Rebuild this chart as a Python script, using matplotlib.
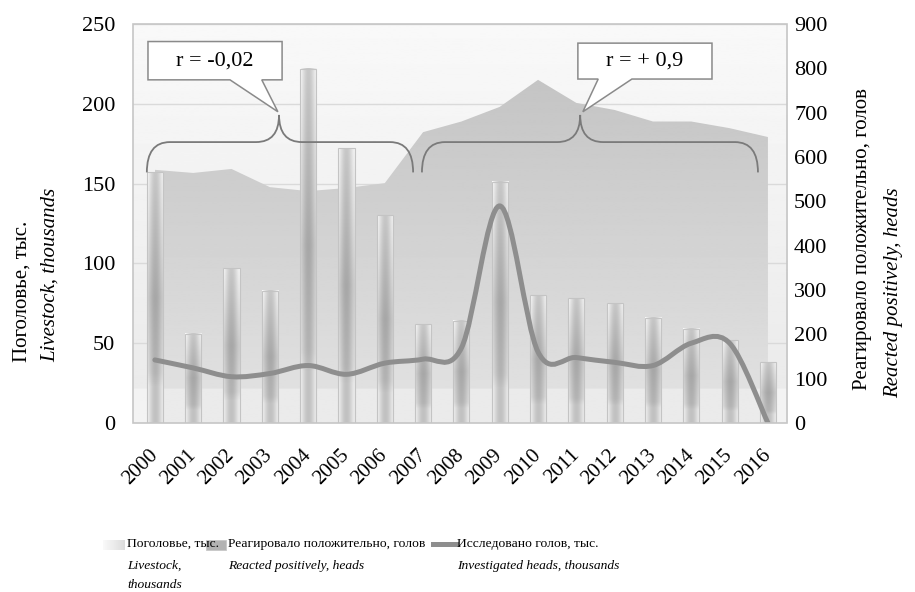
import numpy as np
import matplotlib
matplotlib.use("Agg")
import matplotlib.pyplot as plt
from matplotlib.path import Path
from matplotlib.patches import PathPatch, Polygon, Rectangle
from matplotlib.lines import Line2D

plt.rcParams["font.family"] = ["Liberation Serif", "DejaVu Serif"]

years = [str(y) for y in range(2000, 2017)]
# livestock, thousands (left axis, bars)
livestock = [157, 56, 97, 83, 222, 172, 130, 62, 64, 151, 80, 78, 75, 66, 59, 52, 38]
# reacted positively, heads (right axis, area)
reacted = [571, 564, 573, 532, 523, 530, 541, 656, 680, 713, 774, 722, 706, 680, 680, 665, 645]
# investigated heads, thousands (left axis, smoothed line)
investigated = [39.5, 34.5, 29, 31, 36, 30.5, 37.5, 40, 47, 136, 44.5, 41, 38, 36, 50, 50, 0]

left_ticks = [0, 50, 100, 150, 200, 250]
right_ticks = list(range(0, 1000, 100))

fig = plt.figure(figsize=(9.15, 5.92), dpi=100)
ax2 = fig.add_axes([0.1454, 0.2855, 0.7148, 0.674])
ax = ax2.twinx()
ax.set_zorder(ax2.get_zorder() + 1)
ax.patch.set_visible(False)

x = np.arange(len(years))
xlim = (-0.57, 16.5)

# background of the plot area
ax2.patch.set_facecolor("#f3f3f3")
bg = np.linspace(0.975, 0.915, 256).reshape(-1, 1)
bg[-22:] = 0.95
ax2.imshow(bg, cmap="gray", vmin=0, vmax=1, aspect="auto",
           extent=(xlim[0], xlim[1], 0, 900), zorder=0)

# gridlines at the left-axis ticks, behind the area
for v in left_ticks[1:]:
    ax2.plot([0, 1], [v, v], color="#dadada", lw=1,
             transform=ax.get_yaxis_transform(), zorder=1)

# area: reacted positively
area = ax2.fill_between(x, 0, reacted, facecolor="none", edgecolor="none", zorder=2)
grad = np.linspace(0.75, 0.89, 256).reshape(-1, 1)
grad[-22:] = 0.92
im = ax2.imshow(grad, cmap="gray", vmin=0, vmax=1, aspect="auto",
                extent=(x[0], x[-1], 0, 900), zorder=2)
clip = PathPatch(area.get_paths()[0], transform=ax2.transData, visible=False)
ax2.add_patch(clip)
im.set_clip_path(clip)

# bars: livestock, with cylinder-like gradient
w = 0.42
hprof = 0.95 - 0.17 * np.sin(np.linspace(0, np.pi, 32)) ** 1.5
hprof[:4] = [0.99, 0.97, 0.95, 0.93]
vprof = np.interp(np.linspace(0, 1, 128), [0, 0.12, 0.5, 0.8, 0.86, 1.0],
                  [1.0, 0.96, 0.84, 0.90, 0.97, 0.97])
for xi, h in zip(x, livestock):
    img = np.outer(vprof, hprof)
    ax.imshow(img, cmap="gray", vmin=0, vmax=1, aspect="auto",
              extent=(xi - w / 2, xi + w / 2, 0, h), zorder=3)
    ax.add_patch(Rectangle((xi - w / 2, 0), w, h, facecolor="none",
                           edgecolor="#c4c4c4", lw=0.8, zorder=3.1))
ax.set_xlim(*xlim)
ax.set_ylim(0, 250)
ax2.set_ylim(0, 900)

# smoothed line: investigated heads (Catmull-Rom style bezier, like Excel)
pts = np.column_stack([x, investigated]).astype(float)
verts = [tuple(pts[0])]
codes = [Path.MOVETO]
n = len(pts)
for i in range(n - 1):
    p0 = pts[max(i - 1, 0)]
    p1 = pts[i]
    p2 = pts[i + 1]
    p3 = pts[min(i + 2, n - 1)]
    c1 = p1 + (p2 - p0) / 6
    c2 = p2 - (p3 - p1) / 6
    verts += [tuple(c1), tuple(c2), tuple(p2)]
    codes += [Path.CURVE4] * 3
ax.add_patch(PathPatch(Path(verts, codes), facecolor="none", edgecolor="#8e8e8e",
                       lw=3.6, capstyle="round", zorder=4))

# frame
for a in (ax, ax2):
    for s in a.spines.values():
        s.set_visible(False)
ax.add_patch(Rectangle((0, 0), 1, 1, transform=ax.transAxes, facecolor="none",
                       edgecolor="#c6c6c6", lw=1.2, zorder=6, clip_on=False))

# ticks
ax2.set_xticks(x)
ax2.set_xticklabels(years, rotation=45, ha="right", va="center",
                    rotation_mode="anchor", fontsize=15)
ax2.tick_params(axis="x", length=0, pad=21)
ax.tick_params(axis="x", bottom=False, labelbottom=False)
ax2.yaxis.tick_right()
ax.yaxis.tick_left()
ax.set_yticks(left_ticks)
ax.set_yticklabels([str(v) for v in left_ticks], fontsize=16)
ax.tick_params(axis="y", length=0, pad=13)
ax2.set_yticks(right_ticks)
ax2.set_yticklabels([str(v) for v in right_ticks], fontsize=16)
ax2.tick_params(axis="y", length=0, pad=5)

# axis titles
fig.text(22 / 915, 1 - 362 / 592, "Поголовье, тыс.", rotation=90, ha="center",
         va="bottom", fontsize=15)
fig.text(50 / 915, 1 - 362 / 592, "Livestock, thousands", rotation=90, ha="center",
         va="bottom", fontsize=15, style="italic")
fig.text(863 / 915, 1 - 390 / 592, "Реагировало положительно, голов", rotation=90,
         ha="center", va="bottom", fontsize=15)
fig.text(894 / 915, 1 - 398 / 592, "Reacted positively, heads", rotation=90,
         ha="center", va="bottom", fontsize=15, style="italic")


# braces and callouts
def brace(x0, x1, xm, ylow, ymid, ytop, d=0.6):
    v = [(x0, ylow), (x0, ymid), (x0 + d, ymid), (xm - d, ymid), (xm, ymid),
         (xm, ytop), (xm, ymid), (xm + d, ymid), (x1 - d, ymid), (x1, ymid), (x1, ylow)]
    c = [Path.MOVETO, Path.CURVE3, Path.CURVE3, Path.LINETO, Path.CURVE3, Path.CURVE3,
         Path.CURVE3, Path.CURVE3, Path.LINETO, Path.CURVE3, Path.CURVE3]
    ax.add_patch(PathPatch(Path(v, c), facecolor="none", edgecolor="#7a7a7a",
                           lw=1.3, zorder=5, clip_on=False))


def callout(x0, x1, ybot, ytop, b0, b1, tip, label):
    poly = [(x0, ytop), (x1, ytop), (x1, ybot), (b1, ybot), tip, (b0, ybot), (x0, ybot)]
    ax.add_patch(Polygon(poly, closed=True, facecolor="white", edgecolor="#8a8a8a",
                         lw=1.1, zorder=7, clip_on=False))
    ax.text((x0 + x1) / 2, (ybot + ytop) / 2, label, ha="center", va="center",
            fontsize=16, zorder=8)


brace(-0.21, 6.74, 3.24, 157, 176, 193)
brace(6.97, 15.74, 11.1, 157, 176, 193)
callout(-0.18, 3.32, 215, 239, 1.96, 2.79, (3.21, 195), "r = -0,02")
callout(11.04, 14.54, 215.5, 238, 11.57, 12.45, (11.17, 195), "r = + 0,9")


# legend (drawn by hand in figure coordinates)
def fx(px):
    return px / 915


def fy(py):
    return 1 - py / 592


leg1 = fig.add_axes([fx(103), fy(550), fx(22), 10 / 592])
leg1.imshow(np.linspace(0.98, 0.86, 32).reshape(1, -1), cmap="gray", vmin=0, vmax=1,
            aspect="auto")
leg1.axis("off")
fig.add_artist(Rectangle((fx(206), fy(550)), fx(20), 10 / 592, facecolor="#b3b3b3",
                         edgecolor="#c8c8c8", lw=0.6))
fig.add_artist(Line2D([fx(433), fx(456)], [fy(544), fy(544)], color="#8e8e8e", lw=3.6))

fs = 9.7
fig.text(fx(127), fy(544), "Поголовье, тыс.", va="center", fontsize=fs)
fig.text(fx(127), fy(566), "Livestock,", va="center", fontsize=fs, style="italic")
fig.text(fx(127), fy(585), "thousands", va="center", fontsize=fs, style="italic")
fig.text(fx(228), fy(544), "Реагировало положительно, голов", va="center", fontsize=fs)
fig.text(fx(228), fy(566), "Reacted positively, heads", va="center", fontsize=fs,
         style="italic")
fig.text(fx(457), fy(544), "Исследовано голов, тыс.", va="center", fontsize=fs)
fig.text(fx(457), fy(566), "Investigated heads, thousands", va="center", fontsize=fs,
         style="italic")

fig.savefig("out.png", dpi=100)
